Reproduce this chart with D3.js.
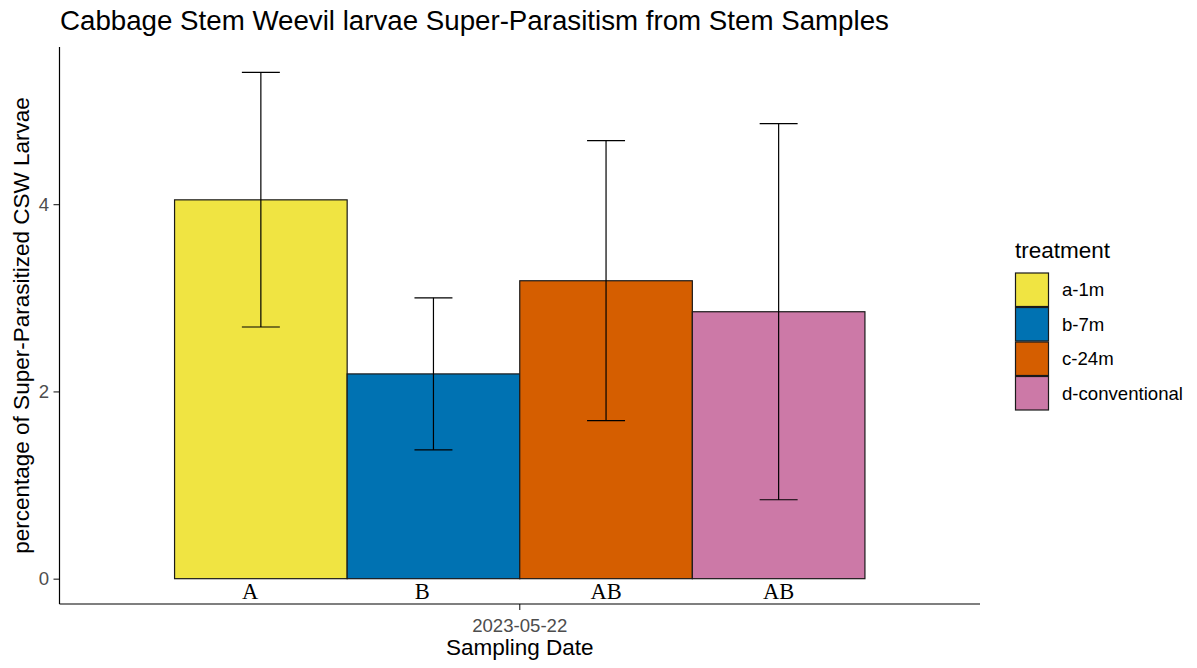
<!DOCTYPE html>
<html>
<head>
<meta charset="utf-8">
<script src="https://cdn.jsdelivr.net/npm/d3@7"></script>
<style>
  body { margin: 0; background: #fff; }
  text { font-family: "Liberation Sans", Arial, sans-serif; }
</style>
</head>
<body>
<div id="chart"></div>
<script>
// data
var dates = ["2023-05-22"];
var treatments = ["a-1m", "b-7m", "c-24m", "d-conventional"];
var means = [4.046, 2.187, 3.182, 2.851];
var lowers = [2.688, 1.376, 1.689, 0.843];
var uppers = [5.408, 3.000, 4.678, 4.860];
// cld strings, single letters carry trailing padding like the original
var letters = ["A    ", "B    ", "AB", "AB"];
var yTicks = [0, 2, 4];
var colours = ["#F0E442", "#0072B2", "#D55E00", "#CC79A7"];

var width = 1197, height = 668;
var panel = {left: 59.5, right: 980, top: 47, bottom: 604};

var svg = d3.select("#chart").append("svg")
  .attr("width", width)
  .attr("height", height);

// y scale, expanded 5% like ggplot
var yMax = d3.max(uppers);
var pad = yMax * 0.05;
var y = d3.scaleLinear()
  .domain([-pad, yMax + pad])
  .range([panel.bottom, panel.top]);

// date band, bars take 0.9 of 1.2 units
var x0 = d3.scaleBand()
  .domain(dates)
  .range([panel.left, panel.right])
  .paddingInner(0)
  .paddingOuter(1 / 6);

var x1 = d3.scaleBand()
  .domain(treatments)
  .range([0, x0.bandwidth()])
  .padding(0);

var colour = d3.scaleOrdinal().domain(treatments).range(colours);

var rows = treatments.map(function(t, i) {
  return {date: dates[0], treatment: t, mean: means[i], lo: lowers[i], hi: uppers[i], letter: letters[i]};
});

var g = svg.append("g");

// bars
g.selectAll("rect.bar")
  .data(rows)
  .enter().append("rect")
  .attr("class", "bar")
  .attr("x", function(d) { return x0(d.date) + x1(d.treatment); })
  .attr("y", function(d) { return y(d.mean); })
  .attr("width", x1.bandwidth())
  .attr("height", function(d) { return y(0) - y(d.mean); })
  .style("fill", function(d) { return colour(d.treatment); })
  .style("stroke", "#1a1a1a")
  .style("stroke-width", 1.2);

// error bars
var capW = x1.bandwidth() * 0.22;
var eb = g.selectAll("g.err")
  .data(rows)
  .enter().append("g")
  .attr("class", "err")
  .attr("transform", function(d) { return "translate(" + (x0(d.date) + x1(d.treatment) + x1.bandwidth() / 2) + ",0)"; })
  .style("stroke", "#000")
  .style("stroke-width", 1.2);

eb.append("line")
  .attr("y1", function(d) { return y(d.lo); })
  .attr("y2", function(d) { return y(d.hi); });
eb.append("line")
  .attr("x1", -capW / 2).attr("x2", capW / 2)
  .attr("y1", function(d) { return y(d.hi); })
  .attr("y2", function(d) { return y(d.hi); });
eb.append("line")
  .attr("x1", -capW / 2).attr("x2", capW / 2)
  .attr("y1", function(d) { return y(d.lo); })
  .attr("y2", function(d) { return y(d.lo); });

// significance letters
g.selectAll("text.letter")
  .data(rows)
  .enter().append("text")
  .attr("class", "letter")
  .attr("x", function(d) { return x0(d.date) + x1(d.treatment) + x1.bandwidth() / 2; })
  .attr("y", y(0) + 20)
  .attr("text-anchor", "middle")
  .style("white-space", "pre")
  .style("font-family", "'Liberation Serif', 'Times New Roman', serif")
  .style("font-size", "22.5px")
  .style("fill", "#000")
  .text(function(d) { return d.letter; });

// axes
var yAxis = svg.append("g")
  .attr("transform", "translate(" + panel.left + ",0)")
  .call(d3.axisLeft(y).tickValues(yTicks).tickFormat(d3.format("d")).tickSize(6).tickPadding(4.5));
var xAxis = svg.append("g")
  .attr("transform", "translate(0," + panel.bottom + ")")
  .call(d3.axisBottom(x0).tickSize(6).tickPadding(8.8));

[yAxis, xAxis].forEach(function(a) {
  a.select(".domain").attr("d", null);
  a.selectAll(".tick line").style("stroke", "#333").style("stroke-width", 1.2);
  a.selectAll(".tick text")
    .style("font-family", "'Liberation Sans', Arial, sans-serif")
    .style("font-size", "18.6px")
    .style("fill", "#4d4d4d");
});
yAxis.append("line")
  .attr("y1", panel.top).attr("y2", panel.bottom)
  .style("stroke", "#000").style("stroke-width", 1.2);
xAxis.append("line")
  .attr("x1", panel.left).attr("x2", panel.right)
  .style("stroke", "#000").style("stroke-width", 1.2);

// titles
svg.append("text")
  .attr("x", 60)
  .attr("y", 30)
  .style("font-size", "27.7px")
  .style("fill", "#000")
  .text("Cabbage Stem Weevil larvae Super-Parasitism from Stem Samples");

svg.append("text")
  .attr("x", (panel.left + panel.right) / 2)
  .attr("y", 655)
  .attr("text-anchor", "middle")
  .style("font-size", "22.5px")
  .style("fill", "#000")
  .text("Sampling Date");

svg.append("text")
  .attr("transform", "translate(29," + (panel.top + panel.bottom) / 2 + ") rotate(-90)")
  .attr("text-anchor", "middle")
  .style("font-size", "22.5px")
  .style("fill", "#000")
  .text("percentage of Super-Parasitized CSW Larvae");

// legend
var legend = svg.append("g").attr("transform", "translate(1015,0)");
legend.append("text")
  .attr("x", 0).attr("y", 258)
  .style("font-size", "22.5px")
  .style("fill", "#000")
  .text("treatment");

var keyH = 34.5;
var item = legend.selectAll("g.key")
  .data(treatments)
  .enter().append("g")
  .attr("class", "key")
  .attr("transform", function(d, i) { return "translate(0," + (272.5 + i * keyH) + ")"; });
item.append("rect")
  .attr("x", 0.5).attr("y", 0.5)
  .attr("width", 33).attr("height", keyH - 1)
  .style("fill", function(d) { return colour(d); })
  .style("stroke", "#1a1a1a")
  .style("stroke-width", 1.2);
item.append("text")
  .attr("x", 47)
  .attr("y", keyH / 2 + 6.5)
  .style("font-size", "18.6px")
  .style("fill", "#000")
  .text(function(d) { return d; });
</script>
</body>
</html>
